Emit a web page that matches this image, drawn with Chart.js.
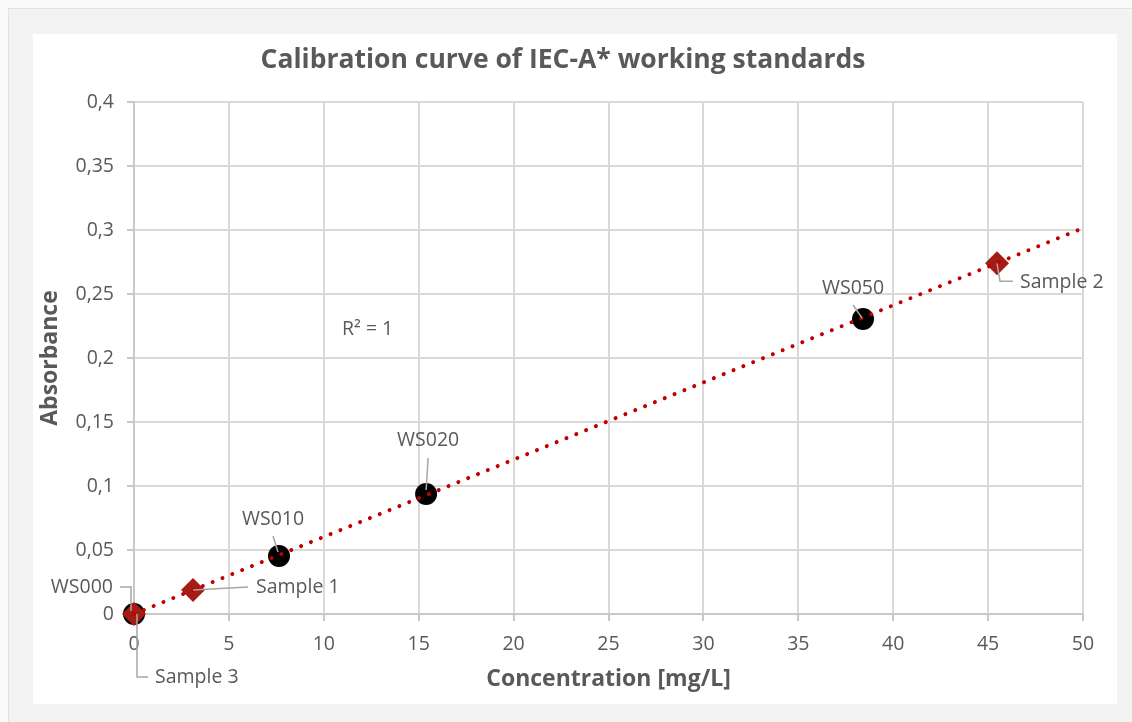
<!DOCTYPE html>
<html><head><meta charset="utf-8">
<script src="https://cdn.jsdelivr.net/npm/chart.js@4.4.1/dist/chart.umd.min.js"></script>
<style>
html,body{margin:0;padding:0;background:#fafafa;overflow:hidden;width:1132px;height:722px}
#frame{position:absolute;left:8px;top:8px;width:1140px;height:730px;background:#f3f3f3;border:1px solid #e2e2e2}
#wrap{position:absolute;left:33px;top:34px;width:1084px;height:670px;background:#fff}
</style></head><body>
<div id="frame"></div>
<div id="wrap"><canvas id="c" width="1084" height="670"></canvas></div>
<script>
// ---- data ----
const standardNames = ['WS000', 'WS010', 'WS020', 'WS050'];
const standardConc = [0, 7.64, 15.39, 38.41];
const standardAbs = [0, 0.0453, 0.0938, 0.2305];

const sampleNames = ['Sample 1', 'Sample 2', 'Sample 3'];
const sampleConc = [3.11, 45.47, 0];
const sampleAbs = [0.0188, 0.274, 0];

const trendConc = [0, 50];
const trendAbs = [0, 0.3015];

const xTickValues = [0, 5, 10, 15, 20, 25, 30, 35, 40, 45, 50];
const yTickValues = [0, 0.05, 0.1, 0.15, 0.2, 0.25, 0.3, 0.35, 0.4];
const yTickLabels = ['0', '0,05', '0,1', '0,15', '0,2', '0,25', '0,3', '0,35', '0,4'];

const chartTitle = 'Calibration curve of IEC-A* working standards';
const xTitle = 'Concentration [mg/L]';
const yTitle = 'Absorbance';
const r2Text = 'R² = 1';
const r2Pos = [10.96, 0.222];

// ---- label layout (pixel offsets from each point) ----
const standardLabelLayout = [
  {dx: -21, dy: -27, align: 'right', leader: [[-14, -27], [-3, -27], [-3, -3]]},
  {dx: -6, dy: -37, align: 'center', leader: [[-6, -20], [-1, -4]]},
  {dx: 2, dy: -53, align: 'center', leader: [[2, -36], [0, -4]]},
  {dx: -10, dy: -31, align: 'center', leader: [[-10, -14], [-1, -1]]}
];
const sampleLabelLayout = [
  {dx: 63, dy: -2, align: 'left', leader: [[0, 0], [55, -3]]},
  {dx: 23, dy: 19, align: 'left', leader: [[0, 0], [3, 18], [16, 18]]},
  {dx: 21, dy: 63, align: 'left', leader: [[3, 0], [3, 63], [14, 63]]}
];

const FONT = "'Open Sans', 'Noto Sans', sans-serif";
const TEXT = '#595959';

const toPts = (xs, ys) => xs.map((x, i) => ({x: x, y: ys[i]}));

const decor = {
  id: 'decor',
  afterDatasetsDraw(chart) {
    const ctx = chart.ctx;
    const xs = chart.scales.x, ys = chart.scales.y;
    ctx.save();
    const drawLabels = (names, cx, cy, layout) => {
      names.forEach((n, i) => {
        const px = xs.getPixelForValue(cx[i]);
        const py = ys.getPixelForValue(cy[i]);
        const L = layout[i];
        ctx.strokeStyle = '#a6a6a6';
        ctx.lineWidth = 1.5;
        ctx.beginPath();
        L.leader.forEach((p, k) => {
          if (k === 0) ctx.moveTo(px + p[0], py + p[1]); else ctx.lineTo(px + p[0], py + p[1]);
        });
        ctx.stroke();
        ctx.fillStyle = TEXT;
        ctx.font = "19.5px " + FONT;
        ctx.textAlign = L.align;
        ctx.textBaseline = 'middle';
        ctx.fillText(n, px + L.dx, py + L.dy);
      });
    };
    drawLabels(standardNames, standardConc, standardAbs, standardLabelLayout);
    drawLabels(sampleNames, sampleConc, sampleAbs, sampleLabelLayout);
    ctx.fillStyle = TEXT;
    ctx.font = "19.5px " + FONT;
    ctx.textAlign = 'left';
    ctx.textBaseline = 'middle';
    ctx.fillText(r2Text, xs.getPixelForValue(r2Pos[0]), ys.getPixelForValue(r2Pos[1]));
    ctx.restore();
  },
  afterDraw(chart) {
    const ctx = chart.ctx;
    const a = chart.chartArea;
    ctx.save();
    ctx.fillStyle = TEXT;
    ctx.textBaseline = 'middle';
    ctx.textAlign = 'center';
    ctx.font = "bold 26.5px " + FONT;
    ctx.fillText(chartTitle, 530, 26);
    ctx.font = "bold 23px " + FONT;
    ctx.fillText(xTitle, (a.left + a.right) / 2, 645);
    ctx.translate(17, (a.top + a.bottom) / 2);
    ctx.rotate(-Math.PI / 2);
    ctx.fillText(yTitle, 0, 0);
    ctx.restore();
  }
};

new Chart(document.getElementById('c'), {
  type: 'scatter',
  data: {
    datasets: [
      {
        label: 'Trend',
        type: 'line',
        data: toPts(trendConc, trendAbs),
        borderColor: '#c00000',
        borderWidth: 4,
        borderDash: [0.01, 10.6],
        borderCapStyle: 'round',
        pointRadius: 0,
        fill: false,
        clip: false,
        order: 0
      },
      {
        label: 'Samples',
        data: toPts(sampleConc, sampleAbs),
        pointStyle: 'rectRot',
        pointRadius: 12,
        pointHoverRadius: 12,
        backgroundColor: '#a51c14',
        borderColor: '#a51c14',
        borderWidth: 0,
        clip: false,
        order: 1
      },
      {
        label: 'Standards',
        data: toPts(standardConc, standardAbs),
        pointStyle: 'circle',
        pointRadius: 11,
        pointHoverRadius: 11,
        backgroundColor: '#000000',
        borderColor: '#000000',
        borderWidth: 0,
        clip: false,
        order: 2
      }
    ]
  },
  options: {
    responsive: false,
    animation: false,
    events: [],
    layout: {padding: {left: 0, top: 68, right: 34, bottom: 0}},
    plugins: {legend: {display: false}, tooltip: {enabled: false}, title: {display: false}},
    scales: {
      x: {
        type: 'linear', min: 0, max: 50,
        afterBuildTicks: s => { s.ticks = xTickValues.map(v => ({value: v})); },
        afterFit: s => { s.height = 90; },
        grid: {color: '#d9d9d9', lineWidth: 2, tickColor: '#c8c8c8', tickLength: 7, drawTicks: true},
        border: {color: '#c8c8c8', width: 2},
        ticks: {color: TEXT, font: {family: FONT, size: 19.5}, padding: 12, maxRotation: 0}
      },
      y: {
        type: 'linear', min: 0, max: 0.4,
        afterBuildTicks: s => { s.ticks = yTickValues.map(v => ({value: v})); },
        afterFit: s => { s.width = 101; },
        grid: {color: '#d9d9d9', lineWidth: 2, tickColor: '#c8c8c8', tickLength: 7, drawTicks: true},
        border: {color: '#c8c8c8', width: 2},
        ticks: {color: TEXT, font: {family: FONT, size: 19.5}, padding: 13,
                callback: (v, i) => yTickLabels[i]}
      }
    }
  },
  plugins: [decor]
});
</script>
</body></html>
